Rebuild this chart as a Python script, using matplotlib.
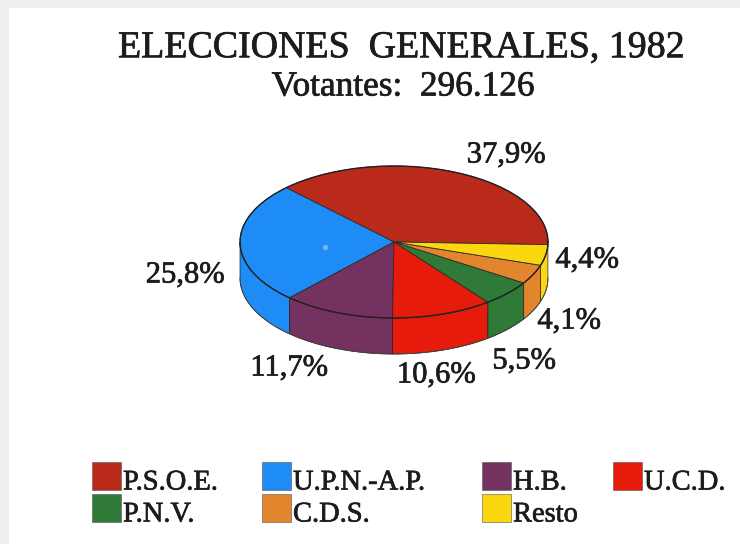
import numpy as np
import matplotlib
matplotlib.use("Agg")
import matplotlib.pyplot as plt
import matplotlib.patheffects as pe
from matplotlib.patches import Polygon, Rectangle

plt.rcParams['font.family'] = ['Liberation Serif', 'DejaVu Serif']

# ======== data ========
partidos = ['P.S.O.E.', 'U.P.N.-A.P.', 'H.B.', 'U.C.D.', 'P.N.V.', 'C.D.S.', 'Resto']
votos = [37.9, 25.8, 11.7, 10.6, 5.5, 4.1, 4.4]
etiquetas = ['37,9%', '25,8%', '11,7%', '10,6%', '5,5%', '4,1%', '4,4%']
colores = ['#b92a1b', '#1d8cf6', '#733260', '#e61b0c', '#2e7a36', '#e3852d', '#fbd80e']

# posiciones en pixeles de la imagen
cx, cy, rx, ry, depth, inicio = 394, 242, 154, 76, 36, -2
etiq_xy = [(506, 155), (185, 275), (289, 368), (436, 375), (524, 361), (569, 321), (587, 260)]
leg_x = [92, 262, 482, 613, 92, 262, 482]
leg_y = [462, 462, 462, 462, 494, 494, 494]

fig = plt.figure(figsize=(7.4, 5.44), dpi=100, facecolor='#eeeeee')
ax = fig.add_axes([0, 0, 1, 1])
ax.set_xlim(0, 740)
ax.set_ylim(544, 0)
ax.axis('off')
ax.add_patch(Rectangle((9, 8), 731, 536, fc='white', ec='none', zorder=0))

trazo = [pe.withStroke(linewidth=0.5, foreground='#1c1c1c')]


def arco(a1, a2, dy=0):
    t = np.radians(np.linspace(a1, a2, 80))
    return np.column_stack([cx + rx * np.cos(t), cy - ry * np.sin(t) + dy])


bordes = inicio + np.concatenate([[0], np.cumsum(votos)]) * 360 / sum(votos)

# ======== lateral del pastel ========
for i, col in enumerate(colores):
    a1, a2 = max(bordes[i], 180), min(bordes[i + 1], 360)
    if a2 <= a1:
        continue
    pts = np.vstack([arco(a1, a2), arco(a1, a2, depth)[::-1]])
    ax.add_patch(Polygon(pts, fc=col, ec='#222222', lw=0.5, zorder=2))

# ======== cara superior ========
for i, col in enumerate(colores):
    pts = np.vstack([[cx, cy], arco(bordes[i], bordes[i + 1])])
    ax.add_patch(Polygon(pts, fc=col, ec='#2a2a2a', lw=0.6, zorder=3))
ax.plot(*arco(0, 360).T, color='#222222', lw=1.0, zorder=4)
ax.plot(*arco(180, 360, depth).T, color='#444444', lw=0.6, zorder=4)

# punto claro que aparece sobre el sector azul
ax.plot([325], [247], 'o', ms=4, color='#6fb4f2', mec='none', zorder=5)

# ======== textos ========
ax.text(401, 48, 'ELECCIONES  GENERALES, 1982', fontsize=27.3, ha='center', va='center',
        color='#1c1c1c', path_effects=trazo)
ax.text(403, 87, 'Votantes:  296.126', fontsize=25.4, ha='center', va='center',
        color='#1c1c1c', path_effects=trazo)
for txt, (x, y) in zip(etiquetas, etiq_xy):
    ax.text(x, y, txt, fontsize=22, ha='center', va='center', color='#1c1c1c', path_effects=trazo)

# ======== leyenda ========
for nombre, col, x, y in zip(partidos, colores, leg_x, leg_y):
    ax.add_patch(Rectangle((x, y), 29, 28, fc=col, ec='#555555', lw=0.4, zorder=2))
    ax.text(x + 31, y + 21, nombre, fontsize=20.5, ha='left', va='center', color='#1c1c1c', path_effects=trazo)

fig.savefig('out.png', dpi=100, facecolor=fig.get_facecolor())
